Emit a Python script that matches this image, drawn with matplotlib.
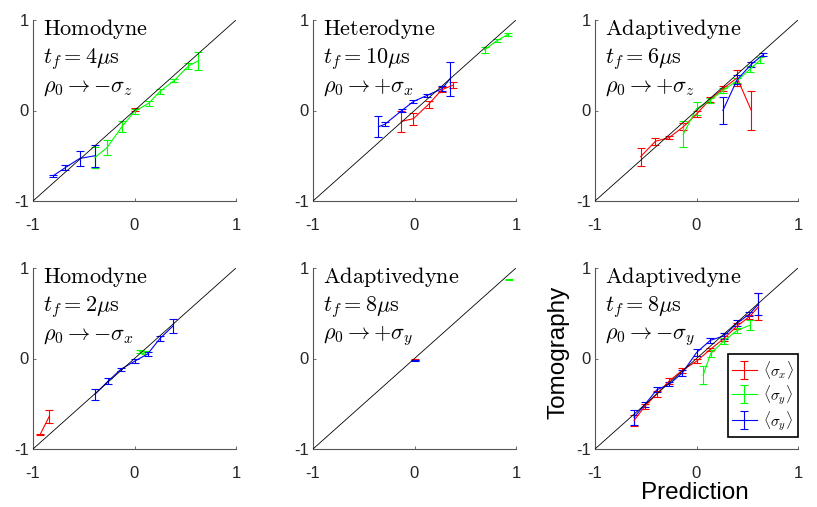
import matplotlib
matplotlib.use('Agg')
import matplotlib.pyplot as plt
from matplotlib.legend_handler import HandlerErrorbar
from matplotlib.container import ErrorbarContainer

plt.rcParams.update({
    'font.family': ['Liberation Sans', 'DejaVu Sans'],
    'mathtext.fontset': 'cm',
    'axes.spines.top': False, 'axes.spines.right': False,
})

C_R, C_G, C_B = '#FF0000', '#00FF00', '#0000FF'

# ── data: x = prediction, y = tomography, e = error ──────────────────────────
# panel 1: homodyne, 4 us, -sigma_z
p1_r_x = [0.0];   p1_r_y = [0.01];  p1_r_e = [0.02]
p1_g_x = [-0.39, -0.27, -0.125, 0.0, 0.14, 0.25, 0.39, 0.53, 0.63]
p1_g_y = [-0.52, -0.41, -0.18, -0.01, 0.08, 0.21, 0.33, 0.49, 0.55]
p1_g_e = [0.12, 0.08, 0.06, 0.03, 0.03, 0.03, 0.02, 0.03, 0.10]
p1_b_x = [-0.80, -0.68, -0.54, -0.39]
p1_b_y = [-0.72, -0.63, -0.53, -0.50]
p1_b_e = [0.01, 0.03, 0.08, 0.12]

# panel 2: heterodyne, 10 us, +sigma_x
p2_r_x = [-0.13, -0.01, 0.14, 0.27, 0.38]
p2_r_y = [-0.12, -0.09, 0.07, 0.23, 0.28]
p2_r_e = [0.12, 0.065, 0.04, 0.03, 0.03]
p2_g_x = [0.69, 0.81, 0.92]
p2_g_y = [0.67, 0.77, 0.84]
p2_g_e = [0.03, 0.015, 0.015]
p2_b_x = [-0.355, -0.29, -0.125, -0.01, 0.12, 0.27, 0.35]
p2_b_y = [-0.18, -0.15, 0.0, 0.10, 0.165, 0.24, 0.35]
p2_b_e = [0.115, 0.02, 0.02, 0.015, 0.02, 0.03, 0.185]

# panel 3: adaptivedyne, 6 us, +sigma_z
p3_r_x = [-0.55, -0.405, -0.27, -0.13, 0.0, 0.13, 0.26, 0.40, 0.54]
p3_r_y = [-0.51, -0.34, -0.30, -0.18, -0.04, 0.12, 0.24, 0.36, 0.0]
p3_r_e = [0.10, 0.04, 0.02, 0.04, 0.03, 0.03, 0.03, 0.09, 0.22]
p3_g_x = [-0.13, 0.0, 0.13, 0.26, 0.40, 0.53, 0.63]
p3_g_y = [-0.26, 0.02, 0.11, 0.22, 0.33, 0.46, 0.56]
p3_g_e = [0.145, 0.075, 0.03, 0.03, 0.03, 0.03, 0.03]
p3_b_x = [0.26, 0.40, 0.54, 0.66]
p3_b_y = [0.0, 0.34, 0.51, 0.62]
p3_b_e = [0.15, 0.05, 0.03, 0.02]

# panel 4: homodyne, 2 us, -sigma_x
p4_r_x = [-0.93, -0.84]
p4_r_y = [-0.84, -0.64]
p4_r_e = [0.01, 0.075]
p4_g_x = [0.05, 0.10]
p4_g_y = [0.075, 0.07]
p4_g_e = [0.015, 0.015]
p4_b_x = [-0.39, -0.26, -0.135, 0.0, 0.13, 0.25, 0.38]
p4_b_y = [-0.395, -0.25, -0.12, -0.03, 0.05, 0.22, 0.36]
p4_b_e = [0.06, 0.03, 0.02, 0.02, 0.02, 0.03, 0.08]

# panel 5: adaptivedyne, 8 us, +sigma_y
p5_r_x = [0.0];  p5_r_y = [-0.01]; p5_r_e = [0.01]
p5_g_x = [0.93]; p5_g_y = [0.875]; p5_g_e = [0.005]
p5_b_x = [0.0];  p5_b_y = [-0.02]; p5_b_e = [0.005]

# panel 6: adaptivedyne, 8 us, -sigma_y
p6_r_x = [-0.615, -0.51, -0.39, -0.27, -0.14, 0.0, 0.135, 0.27, 0.40, 0.52, 0.61]
p6_r_y = [-0.685, -0.53, -0.39, -0.25, -0.13, -0.03, 0.10, 0.22, 0.36, 0.46, 0.57]
p6_r_e = [0.065, 0.03, 0.03, 0.03, 0.03, 0.02, 0.02, 0.03, 0.03, 0.02, 0.15]
p6_g_x = [0.065, 0.14, 0.27, 0.40, 0.53]
p6_g_y = [-0.185, 0.055, 0.195, 0.31, 0.37]
p6_g_e = [0.10, 0.04, 0.03, 0.03, 0.05]
p6_b_x = [-0.615, -0.51, -0.39, -0.27, -0.14, 0.0, 0.135, 0.27, 0.40, 0.52, 0.61]
p6_b_y = [-0.65, -0.51, -0.345, -0.285, -0.16, 0.065, 0.20, 0.25, 0.39, 0.49, 0.60]
p6_b_e = [0.08, 0.03, 0.03, 0.02, 0.03, 0.04, 0.03, 0.03, 0.03, 0.02, 0.12]

TITLES = [
    ('Homodyne', '4', r'{-}\sigma_z'),
    ('Heterodyne', '10', r'{+}\sigma_x'),
    ('Adaptivedyne', '6', r'{+}\sigma_z'),
    ('Homodyne', '2', r'{-}\sigma_x'),
    ('Adaptivedyne', '8', r'{+}\sigma_y'),
    ('Adaptivedyne', '8', r'{-}\sigma_y'),
]
SERIES = [
    [(p1_r_x, p1_r_y, p1_r_e), (p1_g_x, p1_g_y, p1_g_e), (p1_b_x, p1_b_y, p1_b_e)],
    [(p2_r_x, p2_r_y, p2_r_e), (p2_g_x, p2_g_y, p2_g_e), (p2_b_x, p2_b_y, p2_b_e)],
    [(p3_r_x, p3_r_y, p3_r_e), (p3_g_x, p3_g_y, p3_g_e), (p3_b_x, p3_b_y, p3_b_e)],
    [(p4_r_x, p4_r_y, p4_r_e), (p4_g_x, p4_g_y, p4_g_e), (p4_b_x, p4_b_y, p4_b_e)],
    [(p5_r_x, p5_r_y, p5_r_e), (p5_g_x, p5_g_y, p5_g_e), (p5_b_x, p5_b_y, p5_b_e)],
    [(p6_r_x, p6_r_y, p6_r_e), (p6_g_x, p6_g_y, p6_g_e), (p6_b_x, p6_b_y, p6_b_e)],
]
LEG_LABELS = [r'$\langle\sigma_x\rangle$', r'$\langle\sigma_y\rangle$', r'$\langle\sigma_y\rangle$']

W, H = 817, 507
LEFTS = [33, 313, 595]
TOPS = [20, 268]
AW, AH = 203, 181

fig = plt.figure(figsize=(W / 100, H / 100), dpi=100)

for i in range(6):
    r, c = divmod(i, 3)
    ax = fig.add_axes([LEFTS[c] / W, 1 - (TOPS[r] + AH) / H, AW / W, AH / H])

    handles = []
    for (x, y, e), col in zip(SERIES[i], [C_R, C_G, C_B]):
        h = ax.errorbar(x, y, yerr=e, color=col, lw=0.8, elinewidth=0.8,
                        capsize=2.6, capthick=0.8, zorder=3)
        handles.append(h)
    ax.plot([-1, 1], [-1, 1], color='k', lw=0.6, zorder=4)

    ax.set_xlim(-1, 1)
    ax.set_ylim(-1, 1)
    ax.set_xticks([-1, 0, 1])
    ax.set_yticks([-1, 0, 1])
    ax.set_xticklabels(['-1', '0', '1'])
    ax.set_yticklabels(['-1', '0', '1'])
    for s in ('left', 'bottom'):
        ax.spines[s].set_color('#555555')
        ax.spines[s].set_linewidth(0.8)
    ax.tick_params(direction='in', length=2.5, width=0.6, color='#555555',
                   labelsize=12, labelcolor='#262626')
    ax.tick_params(axis='x', pad=12)
    ax.tick_params(axis='y', pad=3)

    name, tf, rho = TITLES[i]
    kw = dict(transform=ax.transAxes, fontsize=16, ha='left', va='baseline')
    ax.text(0.05, 0.915, r'$\mathrm{%s}$' % name, **kw)
    ax.text(0.05, 0.76, r'$t_f = %s\mu\mathrm{s}$' % tf, **kw)
    ax.text(0.05, 0.605, r'$\rho_0 \rightarrow %s$' % rho, **kw)

    if i == 5:
        leg = ax.legend(handles, LEG_LABELS, loc='lower right',
                        bbox_to_anchor=(1.0, 0.065), fontsize=11,
                        frameon=True, fancybox=False, framealpha=1,
                        handlelength=1.6, handleheight=1.0, borderpad=0.3,
                        labelspacing=0.15, handletextpad=0.4, borderaxespad=0,
                        handler_map={ErrorbarContainer: HandlerErrorbar(xerr_size=0.6)})
        leg.get_frame().set_edgecolor('k')
        leg.get_frame().set_linewidth(1.2)

fig.text(558 / W, 1 - 352 / H, 'Tomography', rotation=90, fontsize=17.5,
         ha='center', va='center')
fig.text(695 / W, 1 - 493 / H, 'Prediction', fontsize=17.5,
         ha='center', va='center')

fig.savefig('out.png', dpi=100)
